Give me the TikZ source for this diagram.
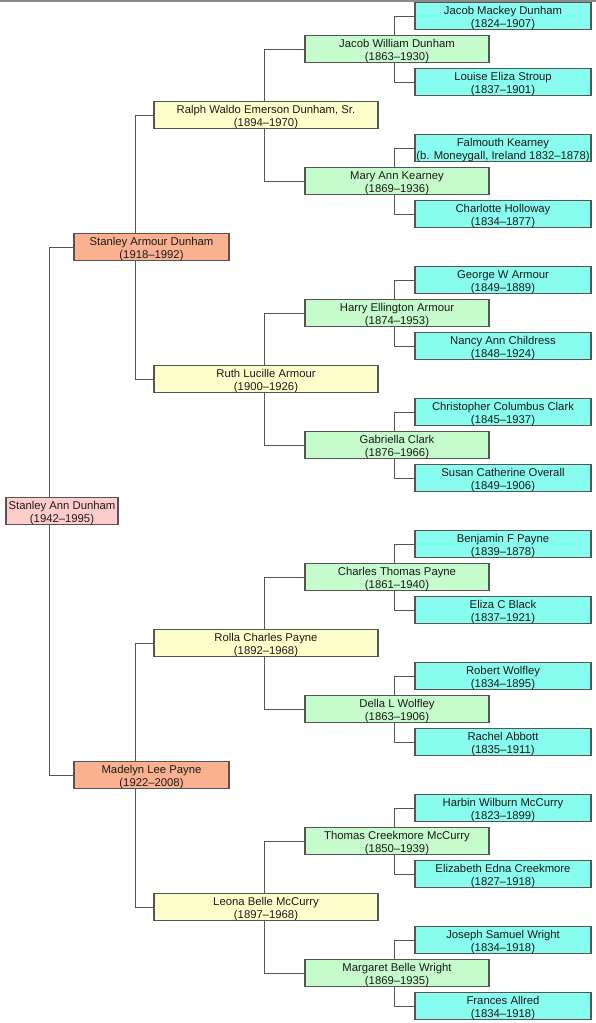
\documentclass[tikz,border=0pt]{standalone}
\usepackage{fontspec}
\setmainfont{Liberation Sans}
\usepackage{xcolor}
\usepackage{tikz}
\usetikzlibrary{backgrounds}
\definecolor{SelfPink}{HTML}{FFCCCC}
\definecolor{ParentSalmon}{HTML}{F9B190}
\definecolor{GrandYellow}{HTML}{FFFFCC}
\definecolor{GreatGreen}{HTML}{C6FBCB}
\definecolor{GGreatCyan}{HTML}{88FCEE}
\definecolor{EdgeGray}{HTML}{555555}
\definecolor{TextDark}{HTML}{1A1A1A}
\definecolor{RuleGray}{HTML}{8C8C8C}

% name over years, with a strut on the first line
\newcommand{\who}[2]{\rule{0pt}{12pt}#1\\#2}

\tikzset{
  personbox/.style={draw=EdgeGray, line width=1.1pt, minimum height=26pt,
    inner sep=0pt, align=center, text=TextDark,
    font=\fontsize{11.3}{12.5}\selectfont},
  selfbox/.style={personbox, fill=SelfPink, minimum width=112pt},
  parentbox/.style={personbox, fill=ParentSalmon, minimum width=155pt},
  grandbox/.style={personbox, fill=GrandYellow, minimum width=224pt},
  greatbox/.style={personbox, fill=GreatGreen, minimum width=184pt},
  ggreatbox/.style={personbox, fill=GGreatCyan, minimum width=176pt},
  link/.style={draw=EdgeGray, line width=1pt},
}

\begin{document}
\begin{tikzpicture}[x=1pt, y=-1pt]
  \useasboundingbox (0,0) rectangle (596,1023);
  \draw[RuleGray, line width=1.5pt] (0,0.75) -- (596,0.75);

  % subject
  \node[selfbox] (a1) at (62,511) {\who{Stanley Ann Dunham}{(1942--1995)}};

  % parents
  \node[parentbox] (a2) at (151.5,247) {\who{Stanley Armour Dunham}{(1918--1992)}};
  \node[parentbox] (a3) at (151.5,775) {\who{Madelyn Lee Payne}{(1922--2008)}};

  % grandparents
  \node[grandbox] (a4) at (266,115) {\who{Ralph Waldo Emerson Dunham, Sr.}{(1894--1970)}};
  \node[grandbox] (a5) at (266,379) {\who{Ruth Lucille Armour}{(1900--1926)}};
  \node[grandbox] (a6) at (266,643) {\who{Rolla Charles Payne}{(1892--1968)}};
  \node[grandbox] (a7) at (266,907) {\who{Leona Belle McCurry}{(1897--1968)}};

  % great-grandparents
  \node[greatbox] (a8) at (397,49) {\who{Jacob William Dunham}{(1863--1930)}};
  \node[greatbox] (a9) at (397,181) {\who{Mary Ann Kearney}{(1869--1936)}};
  \node[greatbox] (a10) at (397,313) {\who{Harry Ellington Armour}{(1874--1953)}};
  \node[greatbox] (a11) at (397,445) {\who{Gabriella Clark}{(1876--1966)}};
  \node[greatbox] (a12) at (397,577) {\who{Charles Thomas Payne}{(1861--1940)}};
  \node[greatbox] (a13) at (397,709) {\who{Della L Wolfley}{(1863--1906)}};
  \node[greatbox] (a14) at (397,841) {\who{Thomas Creekmore McCurry}{(1850--1939)}};
  \node[greatbox] (a15) at (397,973) {\who{Margaret Belle Wright}{(1869--1935)}};

  % great-great-grandparents
  \node[ggreatbox] (a16) at (503,16) {\who{Jacob Mackey Dunham}{(1824--1907)}};
  \node[ggreatbox] (a17) at (503,82) {\who{Louise Eliza Stroup}{(1837--1901)}};
  \node[ggreatbox] (a18) at (503,148) {\who{Falmouth Kearney}{(b. Moneygall, Ireland 1832--1878)}};
  \node[ggreatbox] (a19) at (503,214) {\who{Charlotte Holloway}{(1834--1877)}};
  \node[ggreatbox] (a20) at (503,280) {\who{George W Armour}{(1849--1889)}};
  \node[ggreatbox] (a21) at (503,346) {\who{Nancy Ann Childress}{(1848--1924)}};
  \node[ggreatbox] (a22) at (503,412) {\who{Christopher Columbus Clark}{(1845--1937)}};
  \node[ggreatbox] (a23) at (503,478) {\who{Susan Catherine Overall}{(1849--1906)}};
  \node[ggreatbox] (a24) at (503,544) {\who{Benjamin F Payne}{(1839--1878)}};
  \node[ggreatbox] (a25) at (503,610) {\who{Eliza C Black}{(1837--1921)}};
  \node[ggreatbox] (a26) at (503,676) {\who{Robert Wolfley}{(1834--1895)}};
  \node[ggreatbox] (a27) at (503,742) {\who{Rachel Abbott}{(1835--1911)}};
  \node[ggreatbox] (a28) at (503,808) {\who{Harbin Wilburn McCurry}{(1823--1899)}};
  \node[ggreatbox] (a29) at (503,874) {\who{Elizabeth Edna Creekmore}{(1827--1918)}};
  \node[ggreatbox] (a30) at (503,940) {\who{Joseph Samuel Wright}{(1834--1918)}};
  \node[ggreatbox] (a31) at (503,1006) {\who{Frances Allred}{(1834--1918)}};

  % elbow links, child -> parent
  \begin{scope}[on background layer]
    \foreach \c/\p/\d in {2/1/24, 3/1/24,
        4/2/18, 5/2/18, 6/3/18, 7/3/18,
        8/4/40, 9/4/40, 10/5/40, 11/5/40, 12/6/40, 13/6/40, 14/7/40, 15/7/40,
        16/8/20, 17/8/20, 18/9/20, 19/9/20, 20/10/20, 21/10/20, 22/11/20, 23/11/20,
        24/12/20, 25/12/20, 26/13/20, 27/13/20, 28/14/20, 29/14/20, 30/15/20, 31/15/20}
      \draw[link] (a\c.west) -- ++(-\d,0) |- (a\p.center);
  \end{scope}
\end{tikzpicture}
\end{document}
